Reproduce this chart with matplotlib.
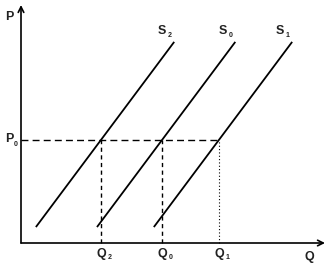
import numpy as np
import matplotlib.pyplot as plt

# supply curves: quantity where each crosses P0, common slope, price range drawn
curve_names = ['2', '0', '1']
q_at_p0 = [2.63, 4.64, 6.51]
slope = 1.71
p0 = 4.33
p_low = 0.67
p_high = 8.45
q_max = 10.0
p_max = 10.0

px_x0, px_y0 = 21, 243
sx, sy = 30.4, 23.8

fig = plt.figure(figsize=(3.33, 2.64), dpi=100)
ax = fig.add_axes([0, 0, 1, 1])
ax.set_xlim(-px_x0 / sx, (333 - px_x0) / sx)
ax.set_ylim((px_y0 - 264) / sy, px_y0 / sy)
ax.axis('off')

# axes with arrows
ax.annotate('', xy=(0, p_max), xytext=(0, 0),
            arrowprops=dict(arrowstyle='->', lw=1.2, color='black', shrinkA=0, shrinkB=0))
ax.annotate('', xy=(q_max, 0), xytext=(0, 0),
            arrowprops=dict(arrowstyle='->', lw=1.2, color='black', shrinkA=0, shrinkB=0))

lab_font = dict(fontsize=9, fontweight='bold', family='Liberation Sans', color='#222222')
sub_font = dict(fontsize=5, fontweight='bold', family='Liberation Sans', color='#222222')

p = np.array([p_low, p_high])
for name, q0 in zip(curve_names, q_at_p0):
    q = q0 + (p - p0) / slope
    ax.plot(q, p, color='black', lw=1.3, solid_capstyle='butt')
    ax.text(q[1] - 0.42, p_high + 0.45, 'S', ha='center', va='center', **lab_font)
    ax.text(q[1] - 0.14, p_high + 0.25, name, ha='center', va='center', **sub_font)

# price line P0 out to the furthest curve
ax.plot([0, max(q_at_p0)], [p0, p0], color='black', lw=1.0, dashes=(5, 3))

# quantity drop lines
styles = [(3, 2.5), (3, 2.5), (1, 2)]
for name, q0, ds in zip(curve_names, q_at_p0, styles):
    ax.plot([q0, q0], [0, p0], color='black', lw=1.0 if ds[0] > 1 else 0.8, dashes=ds)
    ax.text(q0, -0.47, 'Q', ha='center', va='center', **lab_font)
    ax.text(q0 + 0.28, -0.62, name, ha='center', va='center', **sub_font)

ax.text(-0.4, 9.5, 'P', ha='center', va='center', **lab_font)
ax.text(-0.4, p0 + 0.05, 'P', ha='center', va='center', **lab_font)
ax.text(-0.16, p0 - 0.2, '0', ha='center', va='center', **sub_font)
ax.text(9.5, -0.6, 'Q', ha='center', va='center', **lab_font)

fig.savefig('out.png', dpi=100)
